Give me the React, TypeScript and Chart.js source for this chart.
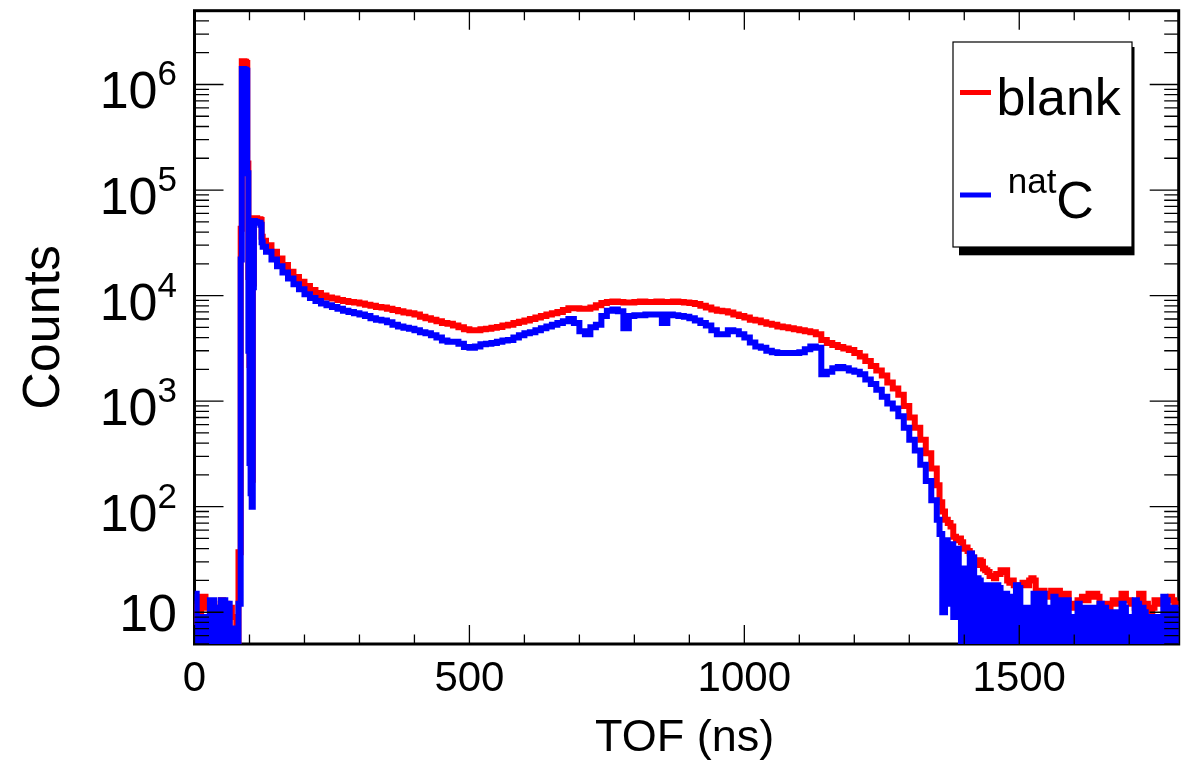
import { useEffect, useRef } from 'react'
import { Chart, registerables } from 'chart.js'

Chart.register(...registerables)

// TOF histogram bin layout: [first left edge, last left edge, bin width] in ns
const binRanges = [
  [0, 84, 4],
  [86, 124, 2],
  [130, 1350, 10],
  [1355, 1385, 5],
  [1390, 1786, 4],
]
const tofMax = 1790

// counts per bin (values below 5 sit under the axis)
const blankCounts = [
  // 0 - 84
  12, 3, 10, 14, 14, 11, 11, 2, 12, 3, 11, 2, 13, 4, 12, 3, 11, 9, 9, 3, 37, 43000,
  // 86 - 124
  1660000, 1660000, 1650000, 1640000, 1600000, 178000, 15000, 2200, 600, 180,
  13000, 54000, 54000, 54000, 53000, 53000, 53000, 52000, 36000, 33000,
  // 130 - 1350
  30000, 26000, 22500, 19500, 16800, 15000, 13500, 12300, 11300, 10600,
  10000, 9600, 9400, 9100, 8900, 8700, 8600, 8400, 8200, 8000,
  7800, 7700, 7500, 7300, 7100, 6900, 6800, 6600, 6300, 6100,
  5900, 5700, 5500, 5400, 5200, 5000, 4800, 4700, 4700, 4800,
  4850, 4950, 5050, 5200, 5300, 5500, 5650, 5800, 6000, 6200,
  6400, 6600, 6800, 7000, 7300, 7600, 7600, 7500, 7500, 7700,
  8100, 8500, 8700, 8800, 8700, 8600, 8600, 8700, 8800, 8700,
  8700, 8800, 8700, 8700, 8800, 8700, 8600, 8500, 8300, 8000,
  7700, 7400, 7200, 7100, 6900, 6600, 6400, 6200, 5900, 5800,
  5600, 5400, 5300, 5100, 5000, 4900, 4800, 4700, 4600, 4500,
  4300, 3800, 3550, 3400, 3250, 3150, 3050, 2850, 2650, 2400,
  2150, 1950, 1750, 1500, 1320, 1150, 900, 700, 560, 430,
  320, 230, 160,
  // 1355 - 1385
  110, 90, 75, 70, 65, 52, 48,
  // 1390 - 1786
  50, 46, 40, 41, 38, 36, 33, 29, 28, 31,
  30, 26, 25, 24, 22, 22, 21, 23, 23, 25,
  24, 25, 20, 19, 20, 18, 17, 18, 18, 19,
  19, 18, 20, 21, 20, 16, 15, 16, 16, 15,
  14, 15, 16, 16, 15, 16, 14, 14, 15, 15,
  11, 11, 12, 12, 13, 13, 14, 13, 13, 15,
  14, 15, 15, 14, 12, 12, 10, 12, 11, 12,
  13, 13, 12, 13, 15, 15, 13, 13, 12, 12,
  11, 12, 15, 15, 12, 12, 11, 10, 11, 13,
  13, 12, 13, 12, 13, 13, 14, 13, 12, 12,
]

const natCCounts = [
  // 0 - 84
  15, 2, 9, 3, 9, 9, 2, 13, 13, 2, 11, 2, 13, 13, 2, 12, 2, 7, 7, 2, 12, 22000,
  // 86 - 124
  1400000, 1400000, 1390000, 1380000, 1350000, 144000, 3000, 260, 134, 100,
  12000, 51000, 50000, 50000, 49000, 49000, 49000, 47000, 32000, 29000,
  // 130 - 1350
  26000, 22000, 19000, 16500, 14500, 12800, 11500, 10300, 9500, 8900,
  8400, 8100, 7800, 7500, 7200, 7000, 6800, 6600, 6400, 6100,
  5900, 5800, 5600, 5300, 5100, 4950, 4850, 4700, 4500, 4400,
  4200, 4000, 3750, 3650, 3650, 3500, 3250, 3200, 3300, 3450,
  3500, 3550, 3650, 3750, 3800, 4000, 4200, 4400, 4500, 4700,
  4900, 5100, 5300, 5500, 5700, 6000, 5500, 4600, 4300, 5000,
  5300, 6400, 7200, 7400, 7100, 4900, 6400, 6500, 6500, 6600,
  6600, 6600, 5500, 6600, 6500, 6400, 6300, 6100, 5800, 5500,
  5200, 4700, 4300, 4300, 4700, 4600, 4300, 4000, 3600, 3300,
  3200, 3000, 2900, 2850, 2850, 2850, 2850, 2900, 3100, 3300,
  3200, 1800, 1900, 2050, 2100, 2050, 1950, 1900, 1800, 1600,
  1450, 1280, 1100, 950, 850, 720, 560, 430, 340, 250,
  175, 115, 75,
  // 1355 - 1385
  55, 10, 48, 12, 44, 9, 40,
  // 1390 - 1786
  26, 1, 25, 26, 1, 36, 33, 1, 21, 20,
  1, 18, 17, 1, 18, 16, 1, 18, 17, 1,
  13, 15, 1, 14, 13, 1, 18, 17, 1, 11,
  10, 1, 11, 1, 15, 15, 1, 14, 15, 1,
  11, 10, 1, 14, 13, 1, 13, 12, 1, 13,
  1, 9, 8, 1, 12, 11, 1, 11, 10, 1,
  11, 11, 1, 9, 12, 1, 11, 1, 10, 9,
  1, 10, 10, 1, 12, 11, 1, 9, 8, 1,
  13, 12, 1, 11, 10, 1, 9, 1, 9, 8,
  1, 9, 1, 14, 13, 1, 11, 10, 1, 11,
]

const xMajorTicks = [0, 500, 1000, 1500]
const xTickLabels = ['0', '500', '1000', '1500']
const xMinorStep = 100
const yDecades = [10, 100, 1000, 10000, 100000, 1000000]
const yExponents = ['', '2', '3', '4', '5', '6']
const yMin = 5
const yMax = 5e6

const FONT = '"Liberation Sans", Arial, Helvetica, sans-serif'

const binEdges: number[] = []
binRanges.forEach(([from, to, step]) => {
  for (let x = from; x <= to; x += step) binEdges.push(x)
})

// histogram as a step line: value holds from left edge to next edge
const toSteps = (counts: number[]) => [
  ...counts.map((y, i) => ({ x: binEdges[i], y })),
  { x: tofMax, y: counts[counts.length - 1] },
]

const rootStyle = {
  id: 'rootStyle',
  beforeDatasetsDraw(chart) {
    const { ctx, chartArea: a } = chart
    ctx.save()
    ctx.strokeStyle = '#000'
    ctx.lineWidth = 3
    ctx.strokeRect(a.left, a.top, a.right - a.left, a.bottom - a.top)
    ctx.restore()
  },
  afterDatasetsDraw(chart) {
    const { ctx, chartArea: a, scales } = chart
    const xs = scales.x
    const ys = scales.y
    ctx.save()

    // ticks on all four sides, pointing inwards
    ctx.strokeStyle = '#000'
    ctx.lineWidth = 1.3
    ctx.beginPath()
    for (let v = 0; v <= tofMax; v += xMinorStep) {
      const px = xs.getPixelForValue(v)
      const len = xMajorTicks.includes(v) ? 19 : 9.5
      ctx.moveTo(px, a.bottom)
      ctx.lineTo(px, a.bottom - len)
      ctx.moveTo(px, a.top)
      ctx.lineTo(px, a.top + len)
    }
    for (let d = 1; d <= yMax; d *= 10) {
      for (let k = 1; k <= 9; k++) {
        const v = k * d
        if (v < yMin || v > yMax) continue
        const py = ys.getPixelForValue(v)
        const len = k === 1 ? 29 : 14.5
        ctx.moveTo(a.left, py)
        ctx.lineTo(a.left + len, py)
        ctx.moveTo(a.right, py)
        ctx.lineTo(a.right - len, py)
      }
    }
    ctx.stroke()

    // tick labels
    ctx.fillStyle = '#000'
    ctx.textBaseline = 'alphabetic'
    ctx.font = `42px ${FONT}`
    ctx.textAlign = 'center'
    xMajorTicks.forEach((v, i) => {
      ctx.fillText(xTickLabels[i], xs.getPixelForValue(v), a.bottom + 47)
    })

    ctx.textAlign = 'left'
    yDecades.forEach((v, i) => {
      const py = ys.getPixelForValue(v)
      const exp = yExponents[i]
      ctx.font = `35px ${FONT}`
      const ew = exp ? ctx.measureText(exp).width : 0
      ctx.font = `52px ${FONT}`
      const bw = ctx.measureText('10').width
      const x0 = a.left - 17.5 - ew - bw
      if (exp) {
        ctx.fillText('10', x0, py + 24)
        ctx.font = `35px ${FONT}`
        ctx.fillText(exp, x0 + bw, py + 1)
      } else {
        ctx.fillText('10', x0, py + 19)
      }
    })

    // axis titles
    ctx.textAlign = 'center'
    ctx.font = `45px ${FONT}`
    ctx.fillText('TOF (ns)', (a.left + a.right) / 2 - 2, a.bottom + 107)
    ctx.save()
    ctx.translate(59, (a.top + a.bottom) / 2)
    ctx.rotate(-Math.PI / 2)
    ctx.font = `52px ${FONT}`
    ctx.fillText('Counts', 0, 0)
    ctx.restore()

    // legend box with shadow
    const box = { left: 953, top: 42, right: 1132, bottom: 247 }
    ctx.fillStyle = '#000'
    ctx.fillRect(box.left + 6, box.top + 5, box.right - box.left - 3.5, box.bottom - box.top + 3.3)
    ctx.fillStyle = '#fff'
    ctx.fillRect(box.left, box.top, box.right - box.left, box.bottom - box.top)
    ctx.lineWidth = 1.2
    ctx.strokeRect(box.left, box.top, box.right - box.left, box.bottom - box.top)

    const ds = chart.data.datasets
    ctx.lineWidth = 5
    ctx.strokeStyle = ds[0].borderColor
    ctx.beginPath()
    ctx.moveTo(960, 92.5)
    ctx.lineTo(991, 92.5)
    ctx.stroke()
    ctx.strokeStyle = ds[1].borderColor
    ctx.beginPath()
    ctx.moveTo(960, 195)
    ctx.lineTo(991, 195)
    ctx.stroke()

    ctx.fillStyle = '#000'
    ctx.textAlign = 'left'
    ctx.font = `52px ${FONT}`
    ctx.fillText(ds[0].label, 996.5, 115)
    ctx.font = `35px ${FONT}`
    ctx.fillText('nat', 1007.7, 193)
    const nw = ctx.measureText('nat').width
    ctx.font = `52px ${FONT}`
    ctx.fillText('C', 1007.7 + nw, 218)

    ctx.restore()
  },
}

const App = () => {
  const canvasRef = useRef(null)

  useEffect(() => {
    document.body.style.margin = '0'
    document.body.style.overflow = 'hidden'

    const chart = new Chart(canvasRef.current, {
      type: 'line',
      data: {
        datasets: [
          {
            label: 'blank',
            data: toSteps(blankCounts),
            borderColor: '#ff0000',
            borderWidth: 6,
            stepped: true,
            pointRadius: 0,
            fill: false,
            borderJoinStyle: 'miter',
            borderCapStyle: 'butt',
            order: 2,
          },
          {
            label: 'natC',
            data: toSteps(natCCounts),
            borderColor: '#0000ff',
            borderWidth: 6,
            stepped: true,
            pointRadius: 0,
            fill: false,
            borderJoinStyle: 'miter',
            borderCapStyle: 'butt',
            order: 1,
          },
        ],
      },
      options: {
        animation: false,
        responsive: true,
        maintainAspectRatio: false,
        events: [],
        layout: { padding: { top: 10.7, right: 7.3, left: 0, bottom: 0 } },
        plugins: {
          legend: { display: false },
          tooltip: { enabled: false },
        },
        scales: {
          x: {
            type: 'linear',
            min: 0,
            max: tofMax,
            ticks: { display: false },
            grid: { display: false },
            border: { display: false },
            afterFit: (s) => {
              s.height = 119
            },
          },
          y: {
            type: 'logarithmic',
            min: yMin,
            max: yMax,
            ticks: { display: false },
            grid: { display: false },
            border: { display: false },
            afterFit: (s) => {
              s.width = 194.5
            },
          },
        },
      },
      plugins: [rootStyle],
    })

    return () => chart.destroy()
  }, [])

  return (
    <div style={{ position: 'relative', width: 1186, height: 763, background: '#fff' }}>
      <canvas ref={canvasRef} />
    </div>
  )
}

export default App
